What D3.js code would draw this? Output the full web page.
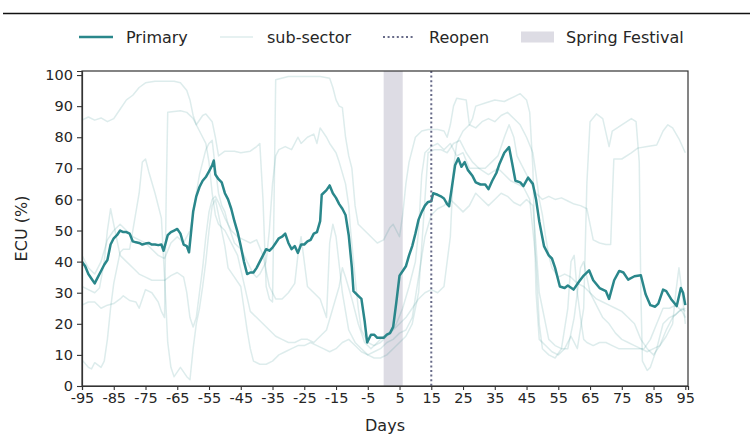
<!DOCTYPE html>
<html>
<head>
<meta charset="utf-8">
<script src="https://cdn.jsdelivr.net/npm/d3@7/dist/d3.min.js"></script>
<style>
  html, body { margin: 0; padding: 0; background: #fff; }
  svg { display: block; font-family: "DejaVu Sans", sans-serif; }
</style>
</head>
<body>
<svg id="chart" width="750" height="434"></svg>
<script>
// ---------------- data ----------------
const xTicks = [-95,-85,-75,-65,-55,-45,-35,-25,-15,-5,5,15,25,35,45,55,65,75,85,95];
const yTicks = [0,10,20,30,40,50,60,70,80,90,100];
const legendLabels = ["Primary", "sub-sector", "Reopen", "Spring Festival"];
const reopenDay = 15;
const festivalDays = [0, 6];

// primary: [day, ECU %]
const primary = [
  [-95,40],[-94,38.5],[-93,36],[-92,34.5],[-91,33],[-90,35],[-89,37],[-88,39],[-87,40.5],[-86,45.5],
  [-85,47.5],[-84,48.5],[-83,50],[-82,49.5],[-81,49.5],[-80,49],[-79,46.5],[-78,46.2],[-77,46],[-76,45.5],
  [-75,45.8],[-74,46],[-73,45.5],[-72,45.5],[-71,45.3],[-70,45.5],[-69.3,43.5],[-68,48.5],[-67,49.5],[-66,50],
  [-65,50.5],[-64,49],[-63,45.5],[-62,45],[-61.3,43],[-60,56],[-59,61],[-58,64],[-57,66],[-56,67.2],
  [-55,69],[-54,71],[-53.5,72.5],[-53,68],[-52,66.5],[-51,65.5],[-50,62],[-49,60],[-48,57],[-47,53],
  [-46,49.5],[-45,45],[-44,40],[-43,36],[-42,36.5],[-41,36.5],[-40,38],[-39,40],[-38,42],[-37,44],
  [-36,43.5],[-35,44.5],[-34,46],[-33,47.5],[-32,48],[-31,49],[-30,46],[-29,44],[-28,45],[-27,42.8],
  [-26,45.5],[-25,45.5],[-24,46.5],[-23,47],[-22,49],[-21,49.5],[-20,53],[-19.5,61.5],[-18,63],[-17,64.5],
  [-16,62],[-15,60.5],[-14,58.5],[-13,57],[-12,55],[-11,48.5],[-10,38],[-9.5,30.5],[-8,29],[-7,28],
  [-6,21],[-5.2,14],[-4,16.5],[-3,16.5],[-2,15.5],[-1,15.5],[0,15.5],[1,16.5],[2,17],[3,19],
  [4,27],[5,35.5],[6,37],[7,38.5],[8,42],[9,45],[10,49],[11,53.5],[12,56],[13,58],
  [14,59.2],[15,59.4],[15.6,62],[17,61.5],[18,61],[19,60.3],[20,58.5],[20.6,57.8],[21.5,64],[22.5,71],
  [23.5,73.2],[24.5,70.5],[25.5,72],[26.5,69.5],[28,67.5],[29,65.5],[30.5,64.8],[32,64.8],[33,63.3],[34.2,66],
  [35.5,68.5],[36.5,71.5],[38,75],[39.5,76.8],[40.5,71.5],[41.5,66],[43,65.5],[44,64.3],[45.5,67],[47,65],
  [48,60],[49,53],[50.5,45],[52,42],[53,41],[54,38],[55.5,32],[57,31.5],[58,32.3],[59.8,31],
  [61.5,33.5],[63,35.5],[64.7,37.2],[66,34],[68,31.5],[70,30.5],[71,28],[72.6,34],[74.2,37],[75.5,36.5],
  [77,34.2],[79,35.3],[81,35.6],[82.5,29.5],[84,26],[85.5,25.5],[86.5,26.5],[88,31],[89,30.5],[90.5,28],
  [92.3,25.7],[93.6,31.5],[94.3,30],[95,26]
];

// sub-sectors: [day, ECU %]
const sub1 = [
  [-95,85.5],[-93,86.5],[-91,85.5],[-89,86.2],[-87,85],[-85,86],[-83,89],[-81,92],[-79,93.5],[-77,96],
  [-75,97.5],[-72,98],[-66,98],[-64,97.5],[-62,95],[-61,92],[-60,87],[-59,84],[-57,87],[-56,87.5],
  [-54,85],[-53,80],[-52,74],[-50,75.5],[-47,75.5],[-45,75],[-42,75.5],[-40,77],[-39,78],[-38,60],
  [-37,32],[-36,28],[-35,27],[-34.5,60],[-34,98.5],[-30,99.5],[-25,99.5],[-20,99.5],[-17,99],[-16,96],
  [-15,92],[-14,90],[-13,89.5],[-12,80],[-11,74],[-10,70],[-9,58],[-8,52],[-6,50],[-4,48],
  [-2,46],[0,47],[2,51],[3,52],[4,50],[5,48],[6,55],[7,65],[8,72],[10,80],
  [12,82],[14,82.5],[17,82.5],[19,82],[20,80],[21,84],[22,90],[23,92.5],[26,92],[27,84],
  [28,86],[29,90],[32,91],[35,92],[38,91.5],[41,93],[43,94],[45,92],[46,88],[47,70],
  [48,30],[49,15],[51,13],[53,11],[55,10],[57,12],[58,14],[59,16],[60,14],[61,12],
  [63,25],[64,65],[65,85],[67,87.5],[69,86],[71,77],[72,82],[75,84],[78,86],[79.5,85],
  [80.5,72],[81,30],[81.5,8],[83,5],[84,6],[86,12],[88,20],[90,22],[92,23],[94,25],[95,24]
];
const sub2 = [
  [-95,32],[-93,31],[-91,30],[-89.5,31.5],[-88,40],[-87,50],[-86,57],[-85,52],[-84,47],[-83,42],
  [-81,40],[-79,38],[-77,36],[-75,35],[-73,34],[-71,34],[-69,34],[-67,35.5],[-65,36.5],[-63,35],
  [-62,30],[-61,22],[-60,19],[-59,22],[-58,30],[-57,38],[-56,48],[-55,56],[-54,60],[-53,61],
  [-52,59],[-50,54],[-48,50],[-46,48],[-44,47],[-42,46],[-40,47],[-38,42],[-36,32],[-34,28],
  [-32,28],[-30,30],[-28,33],[-27,42],[-26,48],[-25,40],[-24,32],[-22,30],[-20,28],[-18,22],
  [-17,46],[-16,52],[-15,48],[-13,30],[-11,18],[-9,14],[-7,12],[-5,10],[-3,9],[-1,9],
  [1,10],[3,12],[5,14],[7,16],[9,20],[11,30],[12,45],[13,60],[14,75],[16,76],
  [18,76],[20,75],[22,78],[24,79],[26,75],[28,72],[30,70],[32,70],[34,72],[36,74],
  [38,80],[39.5,84],[41,80],[42,74],[44,70],[46,66],[48,62],[50,60],[52,61],[54,60],
  [56,60.5],[58,59.5],[60,58.5],[62,58],[64,57],[65,52],[66,47],[68,46],[70,45.5],[71.5,45.5],
  [72,60],[72.5,73],[75,73],[78,75],[80,76.5],[83,77],[86,77.5],[88,82],[89.5,84],[91,83],
  [93,79.5],[95,75]
];
const sub3 = [
  [-95,26],[-93,27],[-91,27],[-89,25],[-87,26],[-85,26.5],[-83,28],[-82,29],[-80,27.5],[-78,27],
  [-77,25],[-75,31],[-73,30],[-71,27],[-70,24],[-69,22],[-68.5,60],[-68,88],[-64,88.5],[-62,88],
  [-60,86],[-58,82],[-56,78],[-55,72],[-54,62],[-53,55],[-52,52],[-50,50],[-48,46],[-46,42],
  [-44,33],[-42,24],[-40,22],[-38,20],[-36,18],[-34,16],[-32,15],[-30,14],[-28,14],[-26,15],
  [-24,15],[-22,14],[-20,16],[-18,18],[-16,25],[-14,32],[-13,38],[-12,35],[-10,28],[-8,20],
  [-6,14],[-4,12],[-2,14],[0,16],[2,17],[4,20],[6,25],[8,32],[10,40],[11,50],
  [12,68],[13,75],[15,77],[17,78],[19,76],[21,78],[23,74],[25,75],[27,70],[30,70],
  [33,68],[36,70],[38,68],[40,66],[42,65],[44,64],[46,60],[48,40],[49,20],[50,12],
  [52,10],[54,9],[56,12],[58,25],[59,40],[60,42],[61,30],[62,22],[63,15],[64,14],
  [66,13],[68,14],[70,14],[72,13],[74,12],[76,12],[78,12],[80,12],[82,12],[84,15],
  [86,20],[88,25],[90,25],[92,26],[94,24],[95,22]
];
const sub4 = [
  [-95,8.4],[-93,6],[-92,5.5],[-91,7.5],[-89,6],[-88,8],[-87,15],[-86,25],[-85,33],[-84,38],
  [-83,43],[-82,44],[-80,44],[-79,50],[-77,62],[-76,72],[-75,73],[-74,69],[-72,62],[-70,54],
  [-69,35],[-68,14],[-67,6],[-66,3],[-64,6],[-62,3],[-61,2],[-60,12],[-59,20],[-58,25],
  [-57,32],[-56,40],[-55,50],[-54,58],[-53,60],[-52,55],[-50,45],[-49,38],[-47,35],[-45,32],
  [-44,25],[-43,18],[-42,12],[-41,8],[-39,7],[-37,7],[-35,8],[-33,10],[-31,11],[-29,12],
  [-27,13],[-25,13],[-23,14],[-21,13],[-19,12],[-17,11],[-15,12],[-13,14],[-11,15],[-9,13],
  [-7,11],[-5,10],[-3,11],[-1,12],[1,14],[3,15],[5,17],[7,18],[9,22],[11,35],
  [13,48],[15,55],[17,57],[19,58],[21,60],[23,58],[25,56],[27,58],[29,62],[31,60],
  [33,58],[35,60],[37,62],[39,61],[41,59],[43,58],[45,60],[47,58],[48,45],[49,30],
  [50,25],[51,20],[52,15],[54,13],[56,12],[58,12],[60,22],[62,38],[63,40],[64,35],
  [65,30],[67,26],[69,22],[71,20],[73,17],[75,15],[77,14],[79,13],[81,12],[83,11],
  [85,12],[87,13],[89,16],[91,20],[92,30],[93,38],[94,30],[95,20]
];
const sub5 = [
  [-95,42],[-93,38],[-91,36],[-89,40],[-87,47],[-85,50],[-83,52],[-81,50],[-79,48],[-77,47],
  [-75,46],[-73,44],[-71,42],[-69,41],[-67,46],[-65,48],[-63,46],[-61,50],[-60,55],[-59,62],
  [-58,68],[-57,72],[-56,76],[-55,78],[-54,79],[-53,70],[-52,62],[-51,58],[-50,56],[-49,52],
  [-48,49],[-47,46],[-45,44],[-43,40],[-41,36],[-40,35],[-39,36],[-38,38],[-37,40],[-36,50],
  [-35,65],[-34,74],[-33,76],[-31,77],[-29,76],[-27,80],[-26,78],[-24,80],[-22,81],[-21,78],
  [-20,83],[-18,80],[-17,78],[-15,75],[-14,72],[-12,65],[-11,58],[-10.5,51],[-9,35],[-8,25],
  [-7,18],[-5,14],[-3,13],[-1,14],[1,16],[3,18],[5,20],[7,22],[9,25],[11,28],
  [13,30],[15,31],[17,30],[19,32],[21,48],[22,70],[23,78],[25,82],[27,84],[29,83],
  [31,85],[33,86],[35,85],[37,87],[39,88],[41,86],[43,84],[45,80],[47,75],[48,68],
  [49,60],[50,55],[51,48],[52,42],[53,38],[55,35],[57,36],[59,35],[61,33],[63,32],
  [65,30],[67,28],[69,27],[71,26],[73,25],[75,24],[77,22],[79,20],[81,15],[83,12],
  [85,10],[87,13],[89,18],[91,22],[93,24],[95,25]
];
const subSectors = [sub1, sub2, sub3, sub4, sub5];

// ---------------- drawing ----------------
const teal = "#2a878b";
const reopenColor = "#676a88";
const svg = d3.select("#chart");
const margin = {left: 82, right: 62, top: 71, bottom: 48};
const W = 750, H = 434;
const x = d3.scaleLinear().domain([-95, 95.85]).range([margin.left, W - margin.right]);
const y = d3.scaleLinear().domain([0, 101.3]).range([H - margin.bottom, margin.top]);

// top rule
svg.append("line").attr("x1", 3).attr("x2", 750).attr("y1", 13.5).attr("y2", 13.5)
  .attr("stroke", "#111").attr("stroke-width", 1.3);

const clipId = "plotclip";
svg.append("clipPath").attr("id", clipId).append("rect")
  .attr("x", x.range()[0]).attr("y", y.range()[1])
  .attr("width", x.range()[1] - x.range()[0]).attr("height", y.range()[0] - y.range()[1]);

// spring festival band
svg.append("rect")
  .attr("x", x(festivalDays[0])).attr("width", x(festivalDays[1]) - x(festivalDays[0]))
  .attr("y", y.range()[1]).attr("height", y.range()[0] - y.range()[1])
  .attr("fill", "#dddce4");

const line = d3.line().x(d => x(d[0])).y(d => y(d[1]));
const g = svg.append("g").attr("clip-path", `url(#${clipId})`);
g.selectAll("path.sub").data(subSectors).join("path")
  .attr("class", "sub").attr("d", line).attr("fill", "none")
  .attr("stroke", teal).attr("stroke-opacity", 0.16).attr("stroke-width", 1.5)
  .attr("stroke-linejoin", "round");

// reopen line
svg.append("line").attr("x1", x(reopenDay)).attr("x2", x(reopenDay))
  .attr("y1", y.range()[1]).attr("y2", y.range()[0])
  .attr("stroke", reopenColor).attr("stroke-width", 2).attr("stroke-dasharray", "2,2.6");

g.append("path").datum(primary).attr("d", line).attr("fill", "none")
  .attr("stroke", teal).attr("stroke-width", 2.5).attr("stroke-linejoin", "round");

// frame
const frame = svg.append("g");
frame.append("rect").attr("x", x.range()[0]).attr("y", y.range()[1])
  .attr("width", x.range()[1] - x.range()[0]).attr("height", y.range()[0] - y.range()[1])
  .attr("fill", "none").attr("stroke", "#333").attr("stroke-width", 1.2);

// axes
const xAxis = d3.axisBottom(x).tickValues(xTicks).tickSize(4).tickPadding(3).tickFormat(d3.format("d"));
const yAxis = d3.axisLeft(y).tickValues(yTicks).tickSize(5).tickPadding(4).tickFormat(d3.format("d"));
const gx = svg.append("g").attr("transform", `translate(0,${y.range()[0]})`).call(xAxis);
const gy = svg.append("g").attr("transform", `translate(${x.range()[0]},0)`).call(yAxis);
[gx, gy].forEach(a => {
  a.select(".domain").attr("stroke", "#333").attr("stroke-width", 1.2);
  a.selectAll(".tick line").attr("stroke", "#333").attr("stroke-width", 1.1);
  a.selectAll(".tick text").attr("fill", "#262626").style("font-size", "14.5px")
    .style("font-family", "DejaVu Sans, sans-serif");
});
gx.selectAll(".tick text").text(d => d < 0 ? "-" + Math.abs(d) : d);

// axis labels
svg.append("text").attr("x", (x.range()[0] + x.range()[1]) / 2).attr("y", 431)
  .attr("text-anchor", "middle").attr("fill", "#262626").style("font-size", "16px").text("Days");
svg.append("text").attr("transform", `translate(27,${(y.range()[0] + y.range()[1]) / 2}) rotate(-90)`)
  .attr("text-anchor", "middle").attr("fill", "#262626").style("font-size", "16px").text("ECU (%)");

// legend
const ly = 37;
const leg = svg.append("g");
leg.append("line").attr("x1", 79).attr("x2", 113).attr("y1", ly).attr("y2", ly)
  .attr("stroke", teal).attr("stroke-width", 2.5);
leg.append("line").attr("x1", 220).attr("x2", 253).attr("y1", ly).attr("y2", ly)
  .attr("stroke", teal).attr("stroke-opacity", 0.16).attr("stroke-width", 1.5);
leg.append("line").attr("x1", 383).attr("x2", 413).attr("y1", ly).attr("y2", ly)
  .attr("stroke", reopenColor).attr("stroke-width", 2).attr("stroke-dasharray", "2,2.6");
leg.append("rect").attr("x", 521).attr("y", ly - 5.5).attr("width", 33).attr("height", 11)
  .attr("fill", "#dddce4");
const lx = [126, 267, 429, 566];
leg.selectAll("text.lg").data(legendLabels).join("text").attr("class", "lg")
  .attr("x", (d, i) => lx[i]).attr("y", ly + 5.5).attr("fill", "#262626")
  .style("font-size", "16px").text(d => d);
</script>
</body>
</html>
